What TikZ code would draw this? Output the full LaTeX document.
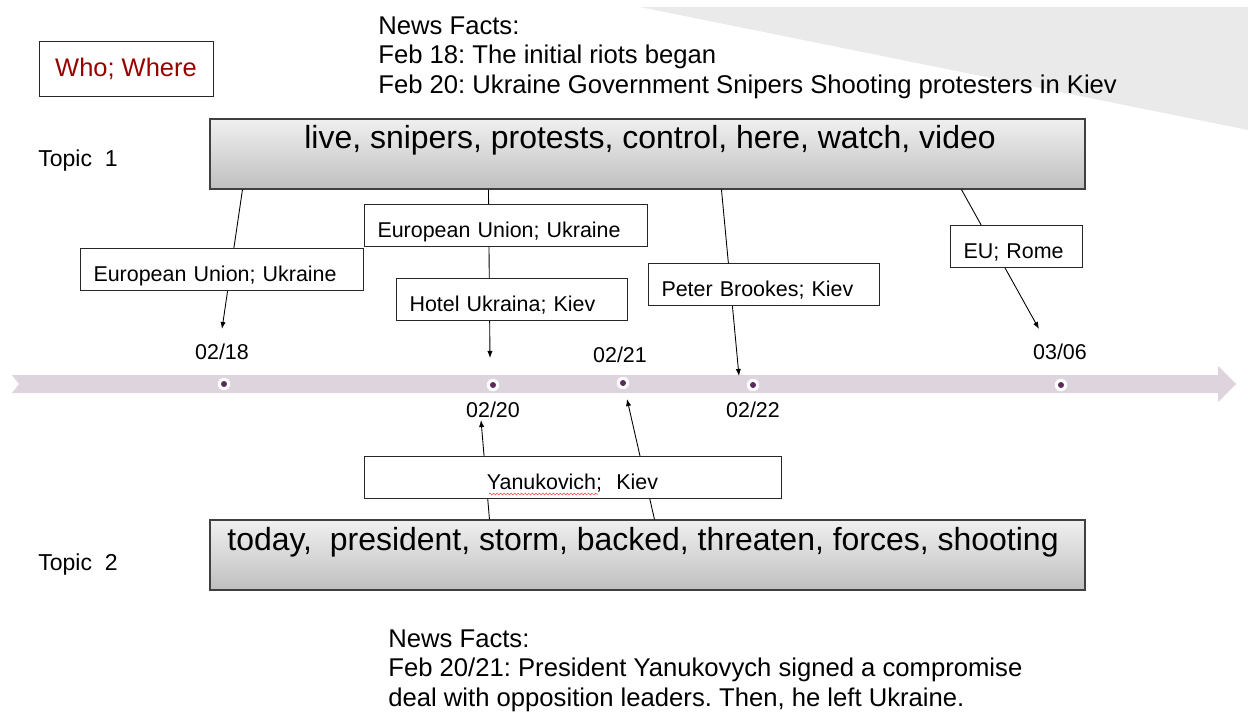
\documentclass[tikz,border=0pt]{standalone}
\usepackage{fontspec}
\setmainfont{Liberation Sans}
\usetikzlibrary{arrows.meta,decorations.pathmorphing}
\definecolor{whored}{RGB}{153,0,0}
\definecolor{lineband}{RGB}{221,212,221}
\definecolor{dotpurple}{RGB}{92,42,92}
\definecolor{cornergray}{RGB}{234,234,234}
\definecolor{boxedge}{RGB}{64,64,64}
\frenchspacing

\begin{document}
\begin{tikzpicture}[x=0.02cm,y=-0.02cm,
  topicbox/.style={draw=boxedge, line width=0.7pt, top color=white!94!black, bottom color=white!75!black, minimum width=17.5cm, minimum height=1.4cm, inner sep=0},
  topicword/.style={font=\fontsize{18.2}{20}\selectfont, anchor=base, inner sep=0},
  topiclab/.style={font=\fontsize{13.1}{15}\selectfont, anchor=base west, inner sep=0},
  wbox/.style={draw=black!85, line width=0.5pt, fill=white, minimum height=0.84cm, text width=#1, text height=0.49cm, text depth=0pt, align=left, inner xsep=0.27cm, font=\fontsize{12.2}{14}\selectfont},
  datelab/.style={font=\fontsize{12.2}{14}\selectfont, inner sep=0},
  tdot/.style={circle, fill=white, minimum size=0.25cm, inner sep=0, path picture={\fill[dotpurple] (path picture bounding box.center) circle (0.06cm);}},
  conn/.style={line width=0.5pt, -{Latex[length=4pt,width=3pt]}},
  news/.style={font=\fontsize{14.6}{17}\selectfont, align=left, anchor=north west, inner sep=0}]
\useasboundingbox (0,0) rectangle (1248,711);
\fill[cornergray] (640,7) -- (1248,7) -- (1248,130) -- cycle;

\node[draw=black!85, line width=0.5pt, minimum width=3.48cm, minimum height=1.1cm, text=whored, font=\fontsize{14.5}{17}\selectfont] (who) at (126,68.5) {Who; Where};
\node[news] (facts1) at (378,16) {News Facts:\\Feb 18: The initial riots began\\Feb 20: Ukraine Government Snipers Shooting protesters in Kiev};
\node[news] (facts2) at (388,629) {News Facts:\\Feb 20/21: President Yanukovych signed a compromise\\deal with opposition leaders. Then, he left Ukraine.};

\node[topiclab] (lab1) at (38,166) {Topic\ \ 1};
\node[topiclab] (lab2) at (38,570) {Topic\ \ 2};
\node[topicbox] (t1) at (647.5,154) {};
\node[topicbox] (t2) at (647.5,555) {};
\node[topicword] (t1w) at (650,148) {live, snipers, protests, control, here, watch, video};
\node[topicword] (t2w) at (643,550) {today,\ \ president, storm, backed, threaten, forces, shooting};

\fill[lineband] (12,375) -- (1218,375) -- (1218,366) -- (1236,384) -- (1218,402) -- (1218,393) -- (12,393) -- (19,384) -- cycle;
\node[tdot] (p18) at (224,384) {};
\node[tdot] (p20) at (493,385) {};
\node[tdot] (p21) at (623,383) {};
\node[tdot] (p22) at (753,385) {};
\node[tdot] (p306) at (1061,385) {};
\node[datelab] (d18) at (222,352) {02/18};
\node[datelab] (d20) at (493,410) {02/20};
\node[datelab] (d21) at (620,355) {02/21};
\node[datelab] (d22) at (753,410) {02/22};
\node[datelab] (d306) at (1060,352) {03/06};

\coordinate (e18) at (222,329);
\coordinate (e20) at (490,358);
\coordinate (e22) at (739,376);
\coordinate (e306) at (1039,329);
\coordinate (u20) at (481,420);
\coordinate (u21) at (627,399);
\draw[conn] (t1.south west) ++(33,0) -- (e18);
\draw[conn] (t1.south west) ++(279,0) -- (e20);
\draw[conn] (t1.south west) ++(512,0) -- (e22);
\draw[conn] (t1.south west) ++(752,0) -- (e306);
\draw[conn] (t2.north west) ++(280,0) -- (u20);
\draw[conn] (t2.north west) ++(445,0) -- (u21);

\node[wbox=5.12cm] (eu1) at (221.5,269) {European Union; Ukraine};
\node[wbox=5.12cm] (eu2) at (505.5,225) {European Union; Ukraine};
\node[wbox=4.08cm] (hotel) at (511.5,299) {Hotel Ukraina; Kiev};
\node[wbox=4.08cm] (peter) at (763.5,284.5) {Peter Brookes; Kiev};
\node[wbox=2.10cm] (rome) at (1016,246.5) {EU; Rome};
\node[wbox=7.80cm, align=center] (yanu) at (572.5,477) {Yanukovich;\ \ Kiev};
\draw[red!75, line width=0.3pt, decorate, decoration={snake, amplitude=0.5pt, segment length=2pt}] (489,494) -- (598,494);
\end{tikzpicture}
\end{document}
